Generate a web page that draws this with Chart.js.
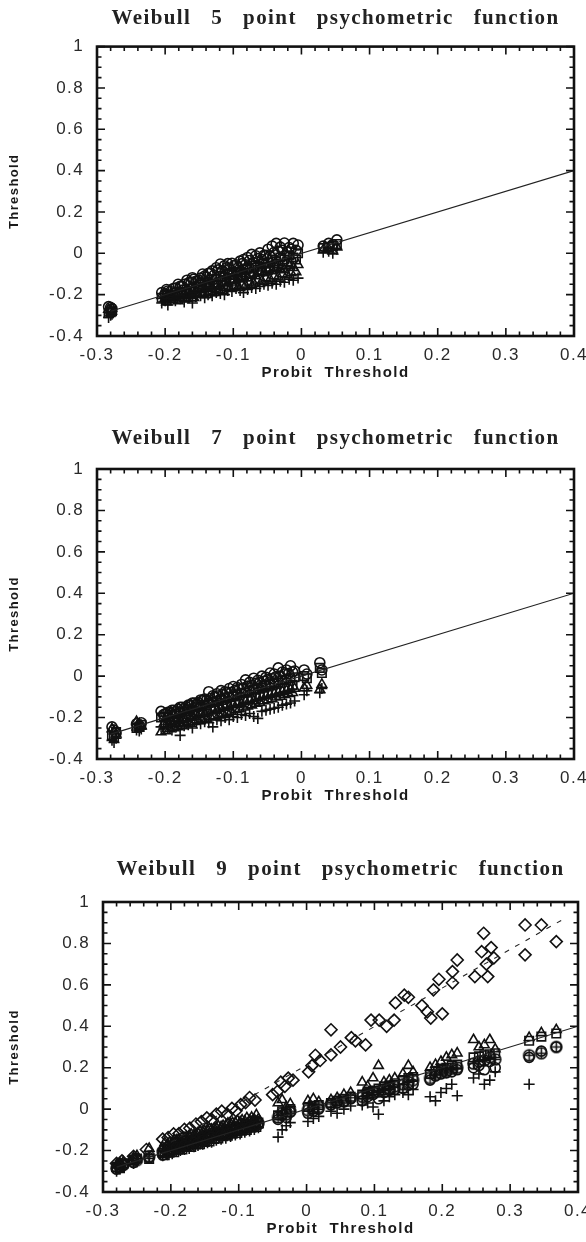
<!DOCTYPE html>
<html lang="en">
<head>
<meta charset="UTF-8">
<title>Weibull vs probit thresholds</title>
<script src="https://cdn.jsdelivr.net/npm/chart.js"></script>
<style>
  html, body { margin: 0; padding: 0; background: #fff; overflow: hidden; }
  body { width: 586px; height: 1242px; position: relative; }
  canvas { position: absolute; left: 0; }
</style>
</head>
<body>
<canvas id="c5" width="586" height="396" style="top:0px"></canvas>
<canvas id="c7" width="586" height="399" style="top:420px"></canvas>
<canvas id="c9" width="586" height="402" style="top:850px"></canvas>

<script>
// axis tick labels
var xTickLabels = [-0.3, -0.2, -0.1, 0, 0.1, 0.2, 0.3, 0.4];
var yTickLabels = [-0.4, -0.2, 0, 0.2, 0.4, 0.6, 0.8, 1];

// identity line and the upper (dashed) trend of the 9 point panel
var identityX = [-0.28, 0.4];
var identityY = [-0.28, 0.4];
var dashedX = [-0.2, 0.38];
var dashedY = [-0.16, 0.92];

// ---- Weibull 5 point ----
var probit5 = [-0.283, -0.280, -0.278, -0.205, -0.200, -0.196, -0.192, -0.185, -0.178, -0.172,
  -0.165, -0.160, -0.155, -0.148, -0.142, -0.137, -0.131, -0.125, -0.119, -0.113,
  -0.108, -0.102, -0.096, -0.090, -0.085, -0.079, -0.073, -0.067, -0.061, -0.055,
  -0.049, -0.043, -0.037, -0.031, -0.025, -0.018, -0.012, -0.005, 0.032, 0.040, 0.046, 0.052];
var circle5 = [-0.258, -0.262, -0.268, -0.190, -0.196, -0.182, -0.185, -0.168, -0.160, -0.150,
  -0.142, -0.118, -0.135, -0.120, -0.110, -0.098, -0.085, -0.070, -0.052, -0.060,
  -0.050, -0.048, -0.055, -0.038, -0.030, -0.020, -0.005, -0.012, 0.002, -0.010,
  0.020, 0.035, 0.048, 0.030, 0.050, 0.028, 0.048, 0.040, 0.035, 0.048, 0.042, 0.065];
var square5 = [-0.290, -0.285, -0.280, -0.215, -0.205, -0.200, -0.210, -0.190, -0.185, -0.175,
  -0.170, -0.210, -0.160, -0.150, -0.140, -0.145, -0.128, -0.125, -0.110, -0.115,
  -0.100, -0.105, -0.090, -0.092, -0.080, -0.075, -0.070, -0.060, -0.065, -0.050,
  -0.045, -0.030, -0.040, -0.020, -0.030, -0.010, -0.020, 0.000, 0.025, 0.030, 0.035, 0.045];
var triangle5 = [-0.272, -0.275, -0.268, -0.205, -0.220, -0.212, -0.200, -0.205, -0.200, -0.195,
  -0.185, -0.180, -0.190, -0.175, -0.170, -0.160, -0.170, -0.150, -0.155, -0.140,
  -0.145, -0.130, -0.140, -0.125, -0.115, -0.120, -0.105, -0.110, -0.090, -0.095,
  -0.080, -0.085, -0.070, -0.075, -0.080, -0.060, -0.070, -0.055, 0.015, 0.020, 0.010, 0.030];
var plus5 = [-0.310, -0.300, -0.295, -0.240, -0.230, -0.250, -0.225, -0.230, -0.220, -0.235,
  -0.215, -0.240, -0.210, -0.205, -0.215, -0.200, -0.205, -0.190, -0.195, -0.200,
  -0.180, -0.185, -0.170, -0.180, -0.190, -0.175, -0.165, -0.170, -0.160, -0.150,
  -0.155, -0.145, -0.150, -0.135, -0.140, -0.125, -0.130, -0.120, 0.005, 0.010, 0.000, 0.020];
// second batch of 5 point conditions inside the dense band
var probit5b = [-0.198, -0.188, -0.181, -0.175, -0.168, -0.162, -0.158, -0.151, -0.145, -0.139,
  -0.134, -0.128, -0.122, -0.116, -0.110, -0.105, -0.099, -0.093, -0.087, -0.082,
  -0.076, -0.070, -0.064, -0.058, -0.052, -0.046, -0.040, -0.034, -0.028, -0.021, -0.015, -0.008];
var circle5b = [-0.175, -0.170, -0.150, -0.160, -0.130, -0.140, -0.125, -0.130, -0.100, -0.115,
  -0.095, -0.105, -0.080, -0.085, -0.070, -0.075, -0.060, -0.070, -0.050, -0.055,
  -0.035, -0.045, -0.025, -0.030, -0.010, -0.015, 0.005, 0.010, 0.015, 0.005, 0.020, 0.015];
var square5b = [-0.220, -0.205, -0.200, -0.195, -0.190, -0.180, -0.185, -0.170, -0.165, -0.160,
  -0.150, -0.155, -0.140, -0.135, -0.130, -0.120, -0.125, -0.110, -0.105, -0.100,
  -0.095, -0.090, -0.080, -0.085, -0.070, -0.065, -0.060, -0.050, -0.055, -0.040, -0.045, -0.030];
var triangle5b = [-0.235, -0.225, -0.230, -0.215, -0.220, -0.205, -0.215, -0.200, -0.195, -0.200,
  -0.185, -0.190, -0.175, -0.180, -0.165, -0.170, -0.160, -0.165, -0.150, -0.155,
  -0.140, -0.145, -0.130, -0.135, -0.120, -0.125, -0.110, -0.115, -0.100, -0.105, -0.095, -0.090];

// ---- Weibull 7 point ----
var probit7 = [-0.278, -0.275, -0.272, -0.242, -0.238, -0.235, -0.206, -0.202, -0.196, -0.190,
  -0.184, -0.178, -0.172, -0.166, -0.160, -0.154, -0.148, -0.142, -0.136, -0.130,
  -0.124, -0.118, -0.112, -0.106, -0.100, -0.094, -0.088, -0.082, -0.076, -0.070,
  -0.064, -0.058, -0.052, -0.046, -0.040, -0.034, -0.028, -0.022, -0.016, -0.010,
  0.004, 0.008, 0.027, 0.030];
var circle7 = [-0.245, -0.260, -0.275, -0.230, -0.240, -0.225, -0.170, -0.185, -0.175, -0.165,
  -0.170, -0.150, -0.155, -0.140, -0.130, -0.135, -0.115, -0.110, -0.075, -0.095,
  -0.085, -0.070, -0.075, -0.060, -0.050, -0.055, -0.040, -0.018, -0.030, -0.010,
  -0.020, 0.000, -0.005, 0.015, 0.010, 0.040, 0.020, 0.030, 0.050, 0.025,
  0.030, 0.010, 0.065, 0.030];
var square7 = [-0.285, -0.295, -0.270, -0.250, -0.245, -0.235, -0.200, -0.195, -0.200, -0.185,
  -0.180, -0.175, -0.170, -0.160, -0.165, -0.150, -0.145, -0.140, -0.130, -0.125,
  -0.120, -0.115, -0.105, -0.100, -0.098, -0.090, -0.082, -0.080, -0.070, -0.065,
  -0.060, -0.055, -0.045, -0.040, -0.035, -0.030, -0.020, -0.018, -0.010, -0.005,
  0.000, -0.010, 0.040, 0.015];
var triangle7 = [-0.255, -0.265, -0.280, -0.220, -0.230, -0.240, -0.270, -0.230, -0.220, -0.215,
  -0.205, -0.210, -0.200, -0.190, -0.195, -0.180, -0.175, -0.180, -0.165, -0.160,
  -0.165, -0.150, -0.145, -0.150, -0.135, -0.130, -0.135, -0.120, -0.115, -0.120,
  -0.105, -0.100, -0.095, -0.090, -0.085, -0.080, -0.075, -0.070, -0.065, -0.060,
  -0.057, -0.045, -0.065, -0.040];
var plus7 = [-0.310, -0.320, -0.300, -0.260, -0.265, -0.255, -0.245, -0.255, -0.250, -0.260,
  -0.245, -0.286, -0.240, -0.235, -0.250, -0.225, -0.230, -0.220, -0.225, -0.245,
  -0.210, -0.215, -0.200, -0.210, -0.195, -0.200, -0.185, -0.190, -0.180, -0.195,
  -0.204, -0.170, -0.165, -0.160, -0.155, -0.150, -0.140, -0.135, -0.130, -0.120,
  -0.090, -0.070, -0.080, -0.060];
// second batch of 7 point conditions inside the dense band
var probit7b = [-0.199, -0.193, -0.187, -0.181, -0.175, -0.169, -0.163, -0.157, -0.151, -0.145,
  -0.139, -0.133, -0.127, -0.121, -0.115, -0.109, -0.103, -0.097, -0.091, -0.085,
  -0.079, -0.073, -0.067, -0.061, -0.055, -0.049, -0.043, -0.037, -0.031, -0.025, -0.019, -0.013];
var circle7b = [-0.180, -0.175, -0.165, -0.160, -0.150, -0.148, -0.140, -0.130, -0.128, -0.118,
  -0.115, -0.108, -0.100, -0.095, -0.088, -0.080, -0.078, -0.068, -0.062, -0.058,
  -0.048, -0.045, -0.035, -0.030, -0.025, -0.015, -0.012, -0.002, 0.000, 0.010, 0.012, 0.020];
var square7b = [-0.228, -0.220, -0.218, -0.210, -0.205, -0.200, -0.192, -0.188, -0.180, -0.175,
  -0.170, -0.162, -0.158, -0.150, -0.145, -0.140, -0.132, -0.128, -0.120, -0.115,
  -0.110, -0.102, -0.098, -0.090, -0.085, -0.080, -0.072, -0.068, -0.060, -0.055, -0.050, -0.042];
var triangle7b = [-0.265, -0.255, -0.250, -0.245, -0.240, -0.232, -0.228, -0.220, -0.215, -0.210,
  -0.205, -0.198, -0.192, -0.188, -0.180, -0.175, -0.170, -0.162, -0.158, -0.150,
  -0.145, -0.140, -0.132, -0.128, -0.120, -0.115, -0.110, -0.102, -0.098, -0.090, -0.085, -0.080];

// ---- Weibull 9 point ----
var probit9 = [-0.280, -0.275, -0.270, -0.255, -0.250, -0.232, -0.212, -0.205, -0.198, -0.192,
  -0.186, -0.180, -0.173, -0.166, -0.160, -0.153, -0.146, -0.140, -0.133, -0.126,
  -0.119, -0.112, -0.105, -0.098, -0.091, -0.084, -0.077, -0.071, -0.042, -0.036,
  -0.030, -0.024, 0.002, 0.010, 0.018, 0.036, 0.045, 0.055, 0.065, 0.082,
  0.090, 0.098, 0.106, 0.114, 0.122, 0.130, 0.142, 0.150, 0.157, 0.182,
  0.190, 0.198, 0.206, 0.214, 0.222, 0.246, 0.254, 0.262, 0.270, 0.278,
  0.328, 0.346, 0.368];
var circle9 = [-0.290, -0.280, -0.272, -0.258, -0.240, -0.235, -0.222, -0.210, -0.200, -0.185,
  -0.190, -0.175, -0.178, -0.160, -0.165, -0.150, -0.148, -0.135, -0.138, -0.125,
  -0.120, -0.115, -0.108, -0.100, -0.095, -0.088, -0.082, -0.075, -0.050, -0.030,
  -0.040, -0.015, -0.020, -0.010, 0.000, 0.020, 0.030, 0.035, 0.050, 0.040,
  0.060, 0.070, 0.050, 0.080, 0.090, 0.095, 0.100, 0.115, 0.120, 0.140,
  0.160, 0.170, 0.175, 0.180, 0.190, 0.200, 0.210, 0.190, 0.230, 0.200,
  0.250, 0.280, 0.300];
var crossCircle9 = [-0.285, -0.275, -0.268, -0.250, -0.246, -0.228, -0.205, -0.200, -0.192, -0.190,
  -0.178, -0.172, -0.165, -0.158, -0.150, -0.145, -0.135, -0.132, -0.122, -0.118,
  -0.110, -0.102, -0.095, -0.090, -0.082, -0.078, -0.072, -0.068, -0.040, -0.020,
  -0.025, -0.010, -0.005, 0.005, 0.010, 0.025, 0.035, 0.040, 0.055, 0.060,
  0.075, 0.080, 0.085, 0.095, 0.100, 0.110, 0.120, 0.130, 0.140, 0.150,
  0.165, 0.175, 0.185, 0.195, 0.200, 0.220, 0.230, 0.235, 0.250, 0.240,
  0.260, 0.270, 0.300];
var square9 = [-0.280, -0.285, -0.262, -0.245, -0.238, -0.240, -0.212, -0.195, -0.200, -0.180,
  -0.185, -0.170, -0.168, -0.152, -0.155, -0.140, -0.140, -0.128, -0.125, -0.115,
  -0.112, -0.100, -0.098, -0.088, -0.085, -0.075, -0.070, -0.065, -0.030, -0.010,
  -0.015, 0.000, 0.010, 0.000, 0.020, 0.030, 0.040, 0.050, 0.060, 0.070,
  0.085, 0.090, 0.100, 0.110, 0.115, 0.125, 0.140, 0.150, 0.155, 0.170,
  0.185, 0.190, 0.200, 0.210, 0.215, 0.250, 0.255, 0.260, 0.265, 0.270,
  0.330, 0.350, 0.365];
var triangle9 = [-0.270, -0.262, -0.255, -0.235, -0.225, -0.190, -0.185, -0.170, -0.160, -0.150,
  -0.148, -0.140, -0.128, -0.125, -0.115, -0.110, -0.100, -0.098, -0.090, -0.085,
  -0.078, -0.070, -0.065, -0.062, -0.058, -0.055, -0.050, -0.048, 0.030, 0.045,
  0.010, 0.025, 0.040, 0.050, 0.035, 0.045, 0.055, 0.070, 0.080, 0.130,
  0.110, 0.150, 0.210, 0.130, 0.140, 0.150, 0.170, 0.210, 0.180, 0.200,
  0.215, 0.230, 0.250, 0.262, 0.270, 0.335, 0.300, 0.310, 0.335, 0.290,
  0.345, 0.368, 0.383];
var plus9 = [-0.300, -0.290, -0.282, -0.262, -0.255, -0.238, -0.225, -0.220, -0.215, -0.205,
  -0.200, -0.195, -0.190, -0.182, -0.175, -0.170, -0.162, -0.160, -0.150, -0.145,
  -0.140, -0.132, -0.125, -0.120, -0.112, -0.105, -0.098, -0.090, -0.135, -0.100,
  -0.080, -0.065, -0.060, -0.045, -0.035, -0.010, -0.020, 0.000, 0.015, 0.020,
  0.030, 0.010, -0.025, 0.040, 0.060, 0.070, 0.080, 0.070, 0.095, 0.060,
  0.040, 0.080, 0.100, 0.120, 0.065, 0.150, 0.170, 0.120, 0.140, 0.180,
  0.120, null, null];
// second batch of 9 point conditions inside the dense lower band
var probit9b = [-0.209, -0.202, -0.195, -0.189, -0.183, -0.177, -0.170, -0.163, -0.157, -0.150,
  -0.143, -0.136, -0.130, -0.123, -0.116, -0.109, -0.102, -0.095, -0.088, -0.081, -0.074];
var circle9b = [-0.192, -0.180, -0.178, -0.166, -0.165, -0.153, -0.152, -0.140, -0.139, -0.127,
  -0.125, -0.113, -0.112, -0.100, -0.098, -0.086, -0.085, -0.072, -0.071, -0.058, -0.057];
var square9b = [-0.222, -0.210, -0.208, -0.196, -0.195, -0.183, -0.182, -0.170, -0.169, -0.158,
  -0.156, -0.144, -0.142, -0.131, -0.128, -0.118, -0.115, -0.104, -0.100, -0.090, -0.086];
var triangle9b = [-0.162, -0.160, -0.148, -0.146, -0.135, -0.133, -0.122, -0.120, -0.108, -0.106,
  -0.095, -0.093, -0.082, -0.080, -0.068, -0.066, -0.055, -0.053, -0.042, -0.040, -0.028];
// diamonds: their own conditions
var diamondX9 = [-0.280, -0.272, -0.255, -0.236, -0.212, -0.204, -0.196, -0.188, -0.180, -0.172,
  -0.163, -0.155, -0.147, -0.140, -0.133, -0.125, -0.117, -0.110, -0.104, -0.097,
  -0.090, -0.084, -0.076, -0.050, -0.043, -0.038, -0.032, -0.027, -0.020, 0.003,
  0.008, 0.013, 0.020, 0.036, 0.036, 0.050, 0.066, 0.072, 0.087, 0.095,
  0.107, 0.118, 0.129, 0.131, 0.144, 0.150, 0.170, 0.178, 0.183, 0.187,
  0.195, 0.200, 0.215, 0.215, 0.222, 0.248, 0.261, 0.258, 0.265, 0.272,
  0.276, 0.267, 0.322, 0.322, 0.346, 0.368];
var diamondY9 = [-0.262, -0.250, -0.228, -0.195, -0.145, -0.137, -0.120, -0.118, -0.098, -0.092,
  -0.072, -0.060, -0.042, -0.050, -0.024, -0.010, -0.024, 0.004, -0.008, 0.022,
  0.032, 0.056, 0.044, 0.070, 0.085, 0.130, 0.110, 0.150, 0.140, 0.180,
  0.210, 0.260, 0.235, 0.383, 0.262, 0.300, 0.345, 0.330, 0.310, 0.430,
  0.430, 0.400, 0.430, 0.513, 0.550, 0.540, 0.500, 0.470, 0.440, 0.576,
  0.627, 0.460, 0.664, 0.610, 0.720, 0.640, 0.849, 0.760, 0.700, 0.780,
  0.730, 0.640, 0.889, 0.745, 0.889, 0.809];

function pts(xs, ys) {
  var out = [];
  for (var i = 0; i < xs.length; i++) {
    if (ys[i] !== null) out.push({ x: xs[i], y: ys[i] });
  }
  return out;
}

var ink = '#111';

// circle with a plus inside
function crossedCircle() {
  var c = document.createElement('canvas');
  c.width = 15; c.height = 15;
  var g = c.getContext('2d');
  g.strokeStyle = ink;
  g.lineWidth = 1.6;
  g.beginPath();
  g.arc(7.5, 7.5, 5.5, 0, 2 * Math.PI);
  g.moveTo(2, 7.5); g.lineTo(13, 7.5);
  g.moveTo(7.5, 2); g.lineTo(7.5, 13);
  g.stroke();
  return c;
}

function markers(data, style, r) {
  return {
    type: 'scatter', data: data, pointStyle: style, pointRadius: r, pointHoverRadius: r,
    borderColor: ink, backgroundColor: 'rgba(0,0,0,0)', pointBorderWidth: 1.6
  };
}
function line(xs, ys, dash) {
  return {
    type: 'line', data: pts(xs, ys), borderColor: '#222', borderWidth: 1.1,
    borderDash: dash || [], pointRadius: 0, fill: false
  };
}

// the scanned figure has widely spaced lettering
var spacing = {
  id: 'spacing',
  beforeLayout: function(chart) { chart.ctx.letterSpacing = '1.4px'; },
  beforeDraw: function(chart) { chart.ctx.letterSpacing = '1.4px'; }
};

// border with inward ticks on all four sides
var frameTicks = {
  id: 'frameTicks',
  afterDraw: function(chart) {
    var ctx = chart.ctx, a = chart.chartArea;
    var sx = chart.scales.x, sy = chart.scales.y;
    ctx.save();
    ctx.strokeStyle = '#111';
    ctx.lineWidth = 1.6;
    ctx.beginPath();
    for (var i = 0; i <= 35; i++) {
      var px = sx.getPixelForValue(-0.3 + i * 0.02);
      var len = (i % 5 === 0) ? 8 : 4.5;
      ctx.moveTo(px, a.bottom); ctx.lineTo(px, a.bottom - len);
      ctx.moveTo(px, a.top); ctx.lineTo(px, a.top + len);
    }
    for (var j = 0; j <= 28; j++) {
      var py = sy.getPixelForValue(-0.4 + j * 0.05);
      var len2 = (j % 4 === 0) ? 8 : 4.5;
      ctx.moveTo(a.left, py); ctx.lineTo(a.left + len2, py);
      ctx.moveTo(a.right, py); ctx.lineTo(a.right - len2, py);
    }
    ctx.stroke();
    ctx.lineWidth = 2.6;
    ctx.strokeRect(a.left, a.top, a.right - a.left, a.bottom - a.top);
    ctx.restore();
  }
};

function makeChart(id, title, datasets, p) {
  new Chart(document.getElementById(id), {
    data: { datasets: datasets },
    plugins: [spacing, frameTicks],
    options: {
      responsive: false,
      animation: false,
      layout: { padding: { left: 0, right: p.right, top: 0, bottom: 0 } },
      plugins: {
        legend: { display: false },
        tooltip: { enabled: false },
        title: {
          display: true, text: title, fullSize: false, color: '#222',
          font: { family: '"Liberation Serif", "Times New Roman", serif', size: 21, weight: 'bold', lineHeight: 1.2 },
          padding: { top: p.titleTop, bottom: p.titleBottom }
        }
      },
      scales: {
        x: {
          type: 'linear', min: -0.3, max: 0.4,
          grid: { display: false, drawTicks: false }, border: { display: false },
          afterBuildTicks: function(s) { s.ticks = xTickLabels.map(function(v) { return { value: v }; }); },
          afterFit: function(s) { s.height = 60; s.paddingLeft = 0; s.paddingRight = 0; },
          ticks: {
            autoSkip: false, maxRotation: 0, padding: 9, color: '#2a2a2a',
            font: { family: '"Liberation Sans", Arial, sans-serif', size: 17 },
            callback: function(v) { return String(Math.round(v * 10) / 10); }
          },
          title: {
            display: true, text: 'Probit  Threshold', color: '#1a1a1a',
            font: { family: '"Liberation Sans", Arial, sans-serif', size: 15, weight: 'bold' },
            padding: { top: 0, bottom: 14 }
          }
        },
        y: {
          type: 'linear', min: -0.4, max: 1,
          grid: { display: false, drawTicks: false }, border: { display: false },
          afterBuildTicks: function(s) { s.ticks = yTickLabels.map(function(v) { return { value: v }; }); },
          afterFit: function(s) { s.width = p.left; s.paddingTop = 0; s.paddingBottom = 0; },
          ticks: {
            autoSkip: false, padding: 13, color: '#2a2a2a',
            font: { family: '"Liberation Sans", Arial, sans-serif', size: 17 },
            callback: function(v) { return String(Math.round(v * 10) / 10); }
          },
          title: {
            display: true, text: 'Threshold', color: '#1a1a1a',
            font: { family: '"Liberation Sans", Arial, sans-serif', size: 13, weight: 'bold' },
            padding: { top: 7, bottom: 0 }
          }
        }
      }
    }
  });
}

var xCircle = crossedCircle();

makeChart('c5', 'Weibull   5   point   psychometric   function', [
  line(identityX, identityY),
  markers(pts(probit5, circle5), 'circle', 5),
  markers(pts(probit5b, circle5b), 'circle', 5),
  markers(pts(probit5, square5), 'rect', 6),
  markers(pts(probit5b, square5b), 'rect', 6),
  markers(pts(probit5, triangle5), 'triangle', 5.5),
  markers(pts(probit5b, triangle5b), 'triangle', 5.5),
  markers(pts(probit5, plus5), 'cross', 5.5)
], { left: 97, right: 12, titleTop: 6.4, titleBottom: 15 });

makeChart('c7', 'Weibull   7   point   psychometric   function', [
  line(identityX, identityY),
  markers(pts(probit7, circle7), 'circle', 5),
  markers(pts(probit7b, circle7b), 'circle', 5),
  markers(pts(probit7, square7), 'rect', 6),
  markers(pts(probit7b, square7b), 'rect', 6),
  markers(pts(probit7, triangle7), 'triangle', 5.5),
  markers(pts(probit7b, triangle7b), 'triangle', 5.5),
  markers(pts(probit7, plus7), 'cross', 5.5)
], { left: 97, right: 12, titleTop: 6.4, titleBottom: 17.4 });

makeChart('c9', 'Weibull   9   point   psychometric   function', [
  line(identityX, identityY),
  line(dashedX, dashedY, [5, 7]),
  markers(pts(diamondX9, diamondY9), 'rectRot', 6),
  markers(pts(probit9, circle9), 'circle', 5),
  markers(pts(probit9b, circle9b), 'circle', 5),
  markers(pts(probit9, crossCircle9), xCircle, 5),
  markers(pts(probit9, square9), 'rect', 6),
  markers(pts(probit9b, square9b), 'rect', 6),
  markers(pts(probit9, triangle9), 'triangle', 5.5),
  markers(pts(probit9b, triangle9b), 'triangle', 5.5),
  markers(pts(probit9, plus9), 'cross', 5.5)
], { left: 103, right: 8, titleTop: 7.4, titleBottom: 19.4 });
</script>
</body>
</html>
